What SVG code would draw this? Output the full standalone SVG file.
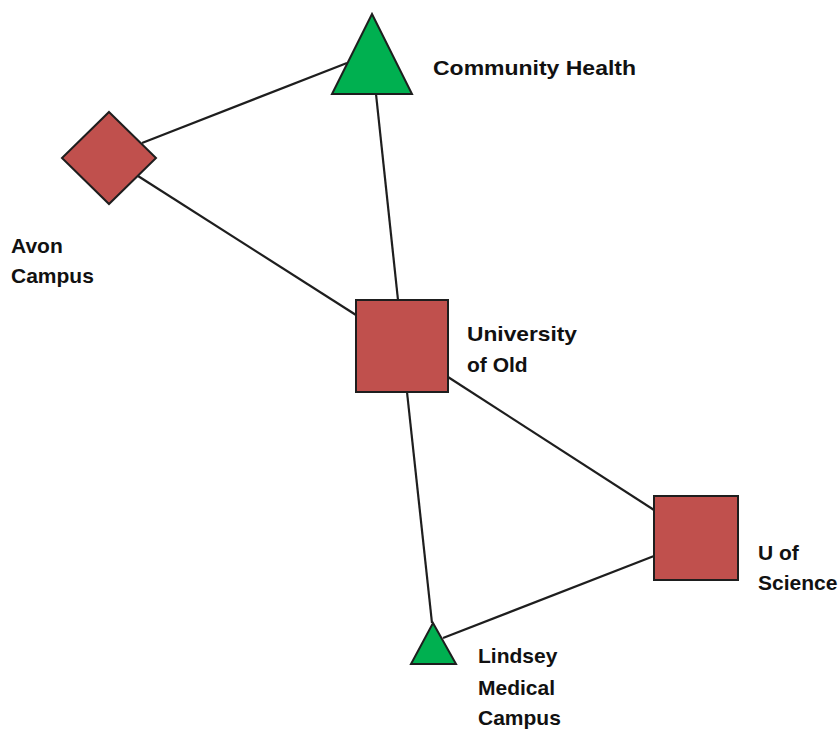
<svg xmlns="http://www.w3.org/2000/svg" width="838" height="729" viewBox="0 0 838 729">
  <style>
    .edge { stroke: #1e1e1e; stroke-width: 2.2; fill: none; }
    .red { fill: #C0504D; stroke: #1e1e1e; stroke-width: 2; }
    .green { fill: #00B050; stroke: #1e1e1e; stroke-width: 2; }
    .label { font-family: "Liberation Sans", Arial, sans-serif; font-weight: bold; font-size: 21px; fill: #111; }
  </style>
  <rect width="838" height="729" fill="#ffffff"/>

  <!-- links between sites -->
  <g id="connectors">
    <line class="edge" x1="142" y1="143" x2="347" y2="63"/>
    <line class="edge" x1="138" y1="176" x2="356" y2="315"/>
    <line class="edge" x1="376" y1="94" x2="398" y2="300"/>
    <line class="edge" x1="448" y1="377" x2="654" y2="510"/>
    <line class="edge" x1="407" y1="392" x2="432" y2="623"/>
    <line class="edge" x1="654" y1="556" x2="443" y2="638"/>
  </g>

  <g id="community-health">
    <polygon class="green" points="372,14 412,94 332,94"/>
    <text class="label" x="433" y="75" textLength="203" lengthAdjust="spacingAndGlyphs">Community Health</text>
  </g>

  <g id="avon-campus">
    <polygon class="red" points="109,112 156,158 109,204 62,158"/>
    <text class="label" x="11" y="253">Avon</text>
    <text class="label" x="11" y="283">Campus</text>
  </g>

  <g id="university-of-old">
    <rect class="red" x="356" y="300" width="92" height="92"/>
    <text class="label" x="467" y="341" textLength="110" lengthAdjust="spacingAndGlyphs">University</text>
    <text class="label" x="467" y="372">of Old</text>
  </g>

  <g id="u-of-science">
    <rect class="red" x="654" y="496" width="84" height="84"/>
    <text class="label" x="758" y="560">U of</text>
    <text class="label" x="758" y="590">Science</text>
  </g>

  <g id="lindsey-medical-campus">
    <polygon class="green" points="433,623 456,664 411,664"/>
    <text class="label" x="478" y="663">Lindsey</text>
    <text class="label" x="478" y="695">Medical</text>
    <text class="label" x="478" y="725">Campus</text>
  </g>
</svg>
